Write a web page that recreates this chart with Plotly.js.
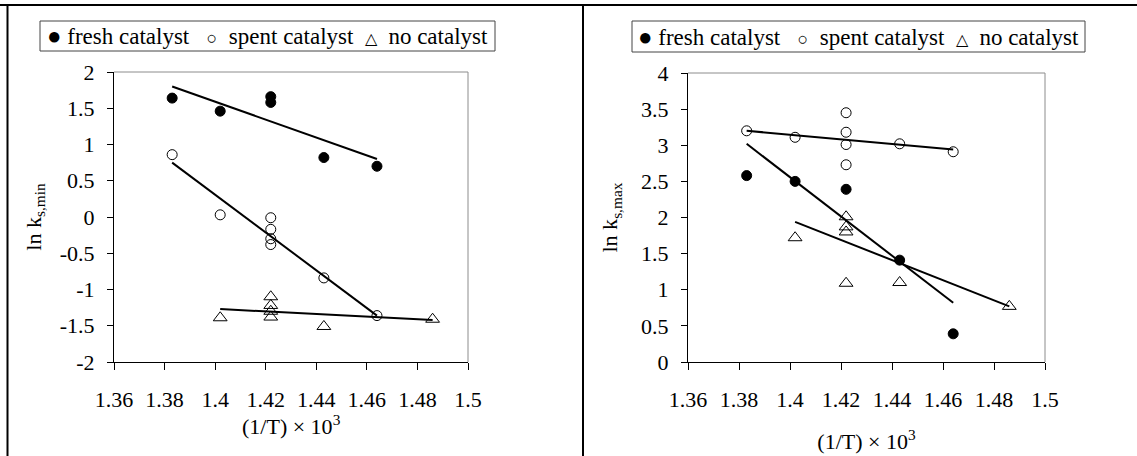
<!DOCTYPE html>
<html><head><meta charset="utf-8">
<script src="https://cdn.plot.ly/plotly-3.0.1.min.js"></script>
<style>html,body{margin:0;padding:0;background:#fff}#chart{width:1137px;height:456px}</style>
</head><body><div id="chart"></div>
<script>
// ---- Left panel: ln k_s,min ----
const xFreshMin = [1.383, 1.402, 1.422, 1.422, 1.443, 1.464];
const yFreshMin = [1.64, 1.46, 1.66, 1.58, 0.82, 0.70];
const xSpentMin = [1.383, 1.402, 1.422, 1.422, 1.422, 1.422, 1.443, 1.464];
const ySpentMin = [0.86, 0.03, -0.01, -0.17, -0.30, -0.38, -0.84, -1.36];
const xNoneMin  = [1.402, 1.422, 1.422, 1.422, 1.422, 1.443, 1.486];
const yNoneMin  = [-1.39, -1.10, -1.22, -1.30, -1.38, -1.51, -1.41];
const fitFreshMinX = [1.383, 1.464], fitFreshMinY = [1.80, 0.80];
const fitSpentMinX = [1.383, 1.464], fitSpentMinY = [0.75, -1.36];
const fitNoneMinX  = [1.402, 1.486], fitNoneMinY  = [-1.27, -1.42];

// ---- Right panel: ln k_s,max ----
const xFreshMax = [1.383, 1.402, 1.422, 1.443, 1.464];
const yFreshMax = [2.58, 2.50, 2.39, 1.41, 0.39];
const xSpentMax = [1.383, 1.402, 1.422, 1.422, 1.422, 1.422, 1.443, 1.464];
const ySpentMax = [3.20, 3.11, 3.45, 3.18, 3.01, 2.73, 3.02, 2.91];
const xNoneMax  = [1.402, 1.422, 1.422, 1.422, 1.422, 1.443, 1.486];
const yNoneMax  = [1.72, 2.01, 1.87, 1.80, 1.09, 1.10, 0.77];
const fitFreshMaxX = [1.383, 1.464], fitFreshMaxY = [3.02, 0.82];
const fitSpentMaxX = [1.383, 1.464], fitSpentMaxY = [3.20, 2.94];
const fitNoneMaxX  = [1.402, 1.486], fitNoneMaxY  = [1.94, 0.77];

// ---- Tick labels ----
const xTickVals = [1.36, 1.38, 1.40, 1.42, 1.44, 1.46, 1.48, 1.50];
const xTickText = ["1.36", "1.38", "1.4", "1.42", "1.44", "1.46", "1.48", "1.5"];
const yMinTickVals = [-2, -1.5, -1, -0.5, 0, 0.5, 1, 1.5, 2];
const yMinTickText = ["-2", "-1.5", "-1", "-0.5", "0", "0.5", "1", "1.5", "2"];
const yMaxTickVals = [0, 0.5, 1, 1.5, 2, 2.5, 3, 3.5, 4];
const yMaxTickText = ["0", "0.5", "1", "1.5", "2", "2.5", "3", "3.5", "4"];

const seriesNames = ["fresh catalyst", "spent catalyst", "no catalyst"];
const xTitle = '(1/T) × 10<sup>3</sup>';

const W = 1137, H = 456;
const FONT = 'Liberation Serif, Times New Roman, serif';

function pts(x, y, name, symbol, size, xa, ya) {
  return {x: x, y: y, name: name, type: 'scatter', mode: 'markers', xaxis: xa, yaxis: ya,
    marker: {symbol: symbol, size: size, color: '#000', line: {color: '#000', width: 1}},
    showlegend: false, hoverinfo: 'x+y'};
}
function fit(x, y, xa, ya) {
  return {x: x, y: y, type: 'scatter', mode: 'lines', xaxis: xa, yaxis: ya,
    line: {color: '#000', width: 2}, showlegend: false, hoverinfo: 'skip'};
}

const data = [
  fit(fitFreshMinX, fitFreshMinY, 'x', 'y'),
  fit(fitSpentMinX, fitSpentMinY, 'x', 'y'),
  fit(fitNoneMinX, fitNoneMinY, 'x', 'y'),
  pts(xFreshMin, yFreshMin, seriesNames[0], 'circle', 10, 'x', 'y'),
  pts(xSpentMin, ySpentMin, seriesNames[1], 'circle-open', 10, 'x', 'y'),
  pts(xNoneMin, yNoneMin, seriesNames[2], 'triangle-up-open', 12, 'x', 'y'),
  fit(fitFreshMaxX, fitFreshMaxY, 'x2', 'y2'),
  fit(fitSpentMaxX, fitSpentMaxY, 'x2', 'y2'),
  fit(fitNoneMaxX, fitNoneMaxY, 'x2', 'y2'),
  pts(xFreshMax, yFreshMax, seriesNames[0], 'circle', 10, 'x2', 'y2'),
  pts(xSpentMax, ySpentMax, seriesNames[1], 'circle-open', 10, 'x2', 'y2'),
  pts(xNoneMax, yNoneMax, seriesNames[2], 'triangle-up-open', 12, 'x2', 'y2')
];

function xAxis(dom, anchor, title, standoff) {
  return {domain: dom, anchor: anchor, range: [1.36, 1.5], tickvals: xTickVals, ticktext: xTickText,
    ticks: 'outside', ticklen: 7, tickcolor: '#000', tickwidth: 1, showline: true, linecolor: '#000',
    linewidth: 1, showgrid: false, zeroline: false, ticklabelstandoff: 11, fixedrange: true,
    tickfont: {family: FONT, size: 22, color: '#000'}, automargin: false,
    title: {text: title, standoff: standoff, font: {family: FONT, size: 22, color: '#000'}}};
}
function yAxis(dom, anchor, range, tv, tt, title, standoff) {
  return {domain: dom, anchor: anchor, range: range, tickvals: tv, ticktext: tt,
    ticks: 'outside', ticklen: 6, tickcolor: '#000', tickwidth: 1, showline: true, linecolor: '#000',
    linewidth: 1, showgrid: false, zeroline: false, ticklabelstandoff: 8, fixedrange: true,
    tickfont: {family: FONT, size: 22, color: '#000'}, automargin: false,
    title: {text: title, standoff: standoff, font: {family: FONT, size: 22, color: '#000'}}};
}

const NB = '\u00a0';
const legendText = '<span style="font-size:24px">●</span>' + NB + seriesNames[0] + NB + NB + NB +
  '<span style="font-size:18px">○</span>' + NB + NB + seriesNames[1] + NB + NB +
  '<span style="font-size:16px">△</span>' + NB + NB + seriesNames[2];

const px = v => v / W, py = v => 1 - v / H;
const line = (x0, y0, x1, y1, color, width) => ({type: 'line', xref: 'paper', yref: 'paper',
  x0: px(x0), y0: py(y0), x1: px(x1), y1: py(y1), line: {color: color, width: width}});

const layout = {
  width: W, height: H, margin: {l: 0, r: 0, t: 0, b: 0},
  paper_bgcolor: '#fff', plot_bgcolor: '#fff', showlegend: false,
  font: {family: FONT, size: 22, color: '#000'},
  xaxis: xAxis([px(114), px(468)], 'y', '', 0),
  yaxis: yAxis([py(362), py(72)], 'x', [-2, 2], yMinTickVals, yMinTickText, 'ln k<sub>s,min</sub>', 12),
  xaxis2: xAxis([px(688), px(1045)], 'y2', xTitle, 22),
  yaxis2: yAxis([py(362), py(73)], 'x2', [0, 4], yMaxTickVals, yMaxTickText, 'ln k<sub>s,max</sub>', 17),
  shapes: [
    // outer frame
    line(0, 5, 1137, 5, '#000', 2),
    line(7.5, 5, 7.5, 456, '#000', 2),
    line(583, 5, 583, 456, '#000', 2),
    // plot area gray borders (top, right)
    {type: 'line', xref: 'x domain', yref: 'y domain', x0: 0, x1: 1, y0: 1, y1: 1, line: {color: '#8c8c8c', width: 1}},
    {type: 'line', xref: 'x domain', yref: 'y domain', x0: 1, x1: 1, y0: 0, y1: 1, line: {color: '#8c8c8c', width: 1}},
    {type: 'line', xref: 'x2 domain', yref: 'y2 domain', x0: 0, x1: 1, y0: 1, y1: 1, line: {color: '#8c8c8c', width: 1}},
    {type: 'line', xref: 'x2 domain', yref: 'y2 domain', x0: 1, x1: 1, y0: 0, y1: 1, line: {color: '#8c8c8c', width: 1}},
    // legend boxes
    {type: 'rect', xref: 'paper', yref: 'paper', x0: px(40), x1: px(495), y0: py(51), y1: py(21), line: {color: '#444', width: 1}, fillcolor: 'rgba(0,0,0,0)'},
    {type: 'rect', xref: 'paper', yref: 'paper', x0: px(632), x1: px(1085), y0: py(52), y1: py(21), line: {color: '#444', width: 1}, fillcolor: 'rgba(0,0,0,0)'}
  ],
  annotations: [
    {xref: 'paper', yref: 'paper', x: px(267.5), y: py(36), xanchor: 'center', yanchor: 'middle',
     text: legendText, showarrow: false, font: {family: FONT, size: 23, color: '#000'}},
    {xref: 'paper', yref: 'paper', x: px(858.5), y: py(36.5), xanchor: 'center', yanchor: 'middle',
     text: legendText, showarrow: false, font: {family: FONT, size: 23, color: '#000'}},
    // left x-axis title (sits closer to the tick labels than Plotly's title allows)
    {xref: 'paper', yref: 'paper', x: px(291), y: py(425), xanchor: 'center', yanchor: 'middle',
     text: xTitle, showarrow: false, font: {family: FONT, size: 22, color: '#000'}}
  ]
};

Plotly.newPlot('chart', data, layout, {staticPlot: true, displayModeBar: false});
</script>
</body></html>
